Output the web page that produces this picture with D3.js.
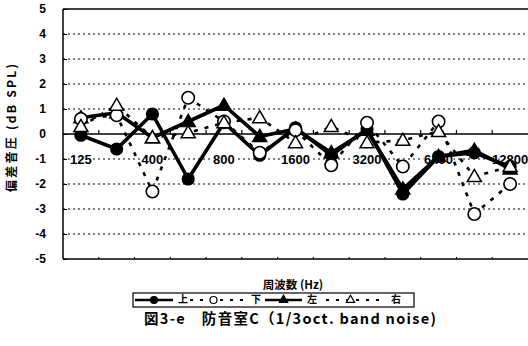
<!DOCTYPE html>
<html>
<head>
<meta charset="utf-8">
<script src="https://cdn.jsdelivr.net/npm/d3@7"></script>
<style>
  body { margin: 0; background: #fff; }
  svg { display: block; }
  text { font-family: "Liberation Sans", Arial, sans-serif; font-weight: bold; fill: #000; }
  .jp { font-family: "Noto Sans CJK JP", "Noto Sans", sans-serif; font-weight: bold; }
</style>
</head>
<body>
<svg id="chart" width="528" height="346"></svg>
<script>
// Frequency bands (half-octave steps), labelled every other band
const bands = ["125", "", "400", "", "800", "", "1600", "", "3200", "", "6400", "", "12800"];
const yTicks = [-5, -4, -3, -2, -1, 0, 1, 2, 3, 4, 5];

// Deviation of sound pressure level per microphone position (dB SPL)
const upper = [-0.05, -0.6, 0.8, -1.8, 0.45, -0.85, 0.25, -0.85, 0.2, -2.4, -0.9, -0.75, -1.3];   // 上
const lower = [0.6, 0.75, -2.3, 1.45, 0.5, -0.75, 0.15, -1.25, 0.45, -1.3, 0.5, -3.2, -2.0];     // 下
const left  = [0.65, 0.85, -0.15, 0.5, 1.15, -0.1, 0.2, -0.75, 0.15, -2.2, -0.9, -0.65, -1.4];   // 左
const right = [0.3, 1.15, -0.15, 0.05, 0.45, 0.65, -0.35, 0.3, -0.35, -0.25, 0.1, -1.7, -1.3];   // 右

const seriesNames = ["上", "下", "左", "右"];

const svg = d3.select("#chart");
const plot = { left: 63, right: 528, top: 9, bottom: 259 };

const x = d3.scaleBand().domain(d3.range(bands.length)).range([plot.left, plot.right]);
const y = d3.scaleLinear().domain([-5, 5]).range([plot.bottom, plot.top]);
const cx = i => x(i) + x.bandwidth() / 2;

// dotted horizontal grid
svg.append("g").selectAll("line")
  .data(yTicks.filter(v => v !== 0 && Math.abs(v) !== 5))
  .join("line")
  .attr("x1", plot.left).attr("x2", plot.right)
  .attr("y1", d => y(d)).attr("y2", d => y(d))
  .attr("stroke", "#000").attr("stroke-width", 1.2)
  .attr("stroke-dasharray", "2,3");

// frame: top, bottom, left
svg.append("line").attr("x1", plot.left).attr("x2", plot.right)
  .attr("y1", y(5)).attr("y2", y(5)).attr("stroke", "#000").attr("stroke-width", 1.5);
svg.append("line").attr("x1", plot.left).attr("x2", plot.right)
  .attr("y1", y(-5)).attr("y2", y(-5)).attr("stroke", "#000").attr("stroke-width", 1.5);
svg.append("line").attr("x1", plot.left).attr("x2", plot.left)
  .attr("y1", y(5)).attr("y2", y(-5)).attr("stroke", "#000").attr("stroke-width", 1.5);

// zero line with band-boundary ticks
svg.append("line").attr("x1", plot.left).attr("x2", plot.right)
  .attr("y1", y(0)).attr("y2", y(0)).attr("stroke", "#000").attr("stroke-width", 1.5);
const edges = d3.range(1, bands.length).map(i => x(i));
svg.append("g").selectAll("line").data(edges).join("line")
  .attr("x1", d => d).attr("x2", d => d)
  .attr("y1", y(0)).attr("y2", y(0) - 4)
  .attr("stroke", "#000").attr("stroke-width", 1.2);
svg.append("g").selectAll("line").data(edges).join("line")
  .attr("x1", d => d).attr("x2", d => d)
  .attr("y1", y(-5)).attr("y2", y(-5) - 2)
  .attr("stroke", "#000").attr("stroke-width", 1);

// y axis ticks and labels
const yAxis = d3.axisLeft(y).tickValues(yTicks).tickSize(-4).tickPadding(17)
  .tickFormat(d => d < 0 ? "-" + Math.abs(d) : String(d));
const ya = svg.append("g").attr("transform", `translate(${plot.left},0)`).call(yAxis);
ya.select(".domain").remove();
ya.selectAll("line").attr("stroke", "#000").attr("stroke-width", 1);
ya.selectAll("text").style("font-size", "12px").style("font-family", "Liberation Sans, Arial, sans-serif")
  .style("font-weight", "bold");

// y axis title
svg.append("text").attr("class", "jp")
  .attr("transform", `translate(16,128) rotate(-90)`)
  .attr("text-anchor", "middle")
  .style("font-size", "12px")
  .attr("textLength", 128).attr("lengthAdjust", "spacing")
  .text("偏差音圧 (dB SPL)");

// frequency labels along the -1 dB grid line
svg.append("g").selectAll("text")
  .data(bands.map((b, i) => ({ b, i })).filter(d => d.b !== ""))
  .join("text")
  .attr("x", d => cx(d.i)).attr("y", y(-1) + 5)
  .attr("text-anchor", "middle")
  .style("font-size", "13px")
  .attr("stroke", "#fff").attr("stroke-width", 2).attr("paint-order", "stroke")
  .text(d => d.b);

// series lines
const line = d3.line().x((d, i) => cx(i)).y(d => y(d));
const draw = (vals, dashed) => svg.append("path").datum(vals)
  .attr("d", line).attr("fill", "none").attr("stroke", "#000")
  .attr("stroke-width", dashed ? 2.6 : 3.6)
  .attr("stroke-dasharray", dashed ? "4,7" : null)
  .attr("stroke-linejoin", "round");
draw(lower, true);
draw(right, true);
draw(upper, false);
draw(left, false);

const tri = d3.symbol().type(d3.symbolTriangle).size(85);
const circleMarks = (vals, filled) => svg.append("g").selectAll("circle").data(vals).join("circle")
  .attr("cx", (d, i) => cx(i)).attr("cy", d => y(d)).attr("r", filled ? 5.8 : 6.2)
  .attr("fill", filled ? "#000" : "#fff").attr("stroke", "#000").attr("stroke-width", 1.6);
const triMarks = (vals, filled) => svg.append("g").selectAll("path").data(vals).join("path")
  .attr("d", tri).attr("transform", (d, i) => `translate(${cx(i)},${y(d) + 1})`)
  .attr("fill", filled ? "#000" : "#fff").attr("stroke", "#000").attr("stroke-width", 1.5);
circleMarks(upper, true);
triMarks(left, true);
circleMarks(lower, false);
triMarks(right, false);

// x axis title
svg.append("text").attr("class", "jp")
  .attr("x", 293).attr("y", 289).attr("text-anchor", "middle")
  .style("font-size", "11.5px").text("周波数 (Hz)");

// legend
const lg = svg.append("g");
lg.append("rect").attr("x", 133).attr("y", 293).attr("width", 281).attr("height", 14)
  .attr("fill", "#fff").attr("stroke", "#000").attr("stroke-width", 1.2);
const ly = 300;
const legendItems = [
  { name: seriesNames[0], x1: 135, x2: 173, mark: "circle", filled: true, dashed: false, tx: 178 },
  { name: seriesNames[1], x1: 190, x2: 247, mark: "circle", filled: false, dashed: true, tx: 251 },
  { name: seriesNames[2], x1: 265, x2: 302, mark: "tri", filled: true, dashed: false, tx: 307 },
  { name: seriesNames[3], x1: 326, x2: 385, mark: "tri", filled: false, dashed: true, tx: 391 }
];
legendItems.forEach(it => {
  lg.append("line").attr("x1", it.x1).attr("x2", it.x2).attr("y1", ly).attr("y2", ly)
    .attr("stroke", "#000").attr("stroke-width", it.dashed ? 2 : 2.4)
    .attr("stroke-dasharray", it.dashed ? "3,7" : null);
  const mx = it.dashed ? (it.x1 + it.x2) / 2 - 5 : (it.x1 + it.x2) / 2;
  if (it.mark === "circle") {
    lg.append("circle").attr("cx", mx).attr("cy", ly).attr("r", 3.5)
      .attr("fill", it.filled ? "#000" : "#fff").attr("stroke", "#000").attr("stroke-width", 1.2);
  } else {
    lg.append("path").attr("d", d3.symbol().type(d3.symbolTriangle).size(30))
      .attr("transform", `translate(${mx},${ly})`)
      .attr("fill", it.filled ? "#000" : "#fff").attr("stroke", "#000").attr("stroke-width", 1.2);
  }
  lg.append("text").attr("class", "jp").attr("x", it.tx).attr("y", ly + 3)
    .style("font-size", "10px").text(it.name);
});

// caption
svg.append("text").attr("class", "jp")
  .attr("x", 290).attr("y", 324).attr("text-anchor", "middle")
  .style("font-size", "14.5px")
  .attr("textLength", 292).attr("lengthAdjust", "spacing")
  .text("図3-e　防音室C（1/3oct. band noise)");
</script>
</body>
</html>
